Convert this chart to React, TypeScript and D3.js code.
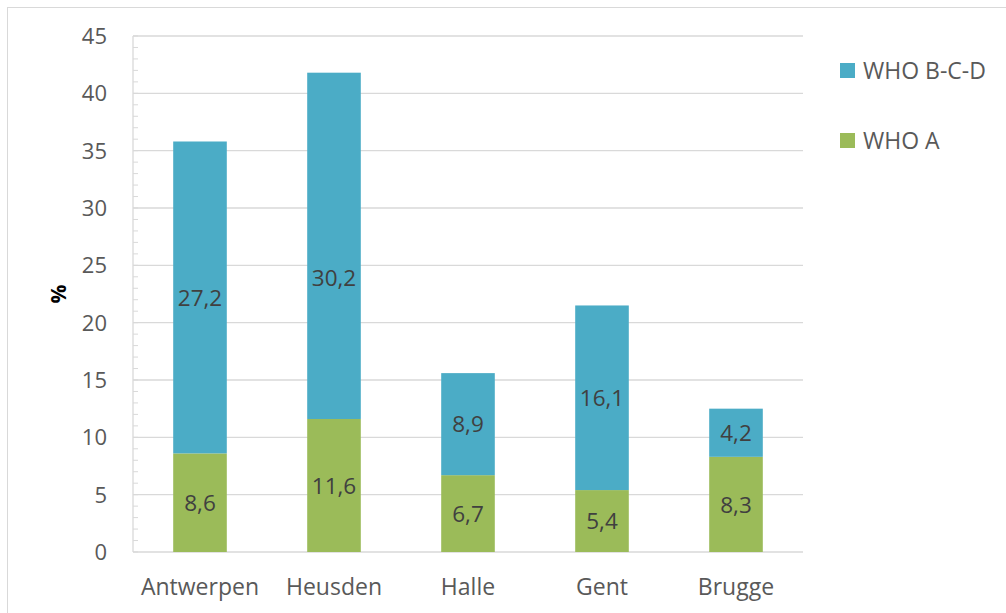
import React from "react";
import * as d3 from "d3";

const categories = ["Antwerpen", "Heusden", "Halle", "Gent", "Brugge"];
const whoA = [8.6, 11.6, 6.7, 5.4, 8.3];
const whoBCD = [27.2, 30.2, 8.9, 16.1, 4.2];
// label anchor (in data units) for the WHO B-C-D labels; null = segment centre
const bcdLabelAt: (number | null)[] = [null, 23.9, null, null, null];
const yTicks = [0, 5, 10, 15, 20, 25, 30, 35, 40, 45];
const seriesNames = ["WHO B-C-D", "WHO A"];
const colors = { a: "#9BBB59", bcd: "#4BACC6" };

const W = 1006;
const H = 613;
const left = 133;
const right = 803;
const top = 36;
const bottom = 552;
const font = "'Open Sans', 'Noto Sans', sans-serif";

export default function App() {
  const x = d3.scaleBand<string>().domain(categories).range([left, right]).paddingInner(0.6).paddingOuter(0.3);
  const y = d3.scaleLinear().domain([0, 45]).range([bottom, top]);
  const minor = d3.range(0, 46, 1);
  const fmt = (v: number) => v.toFixed(1).replace(".", ",");

  return (
    <svg width={W} height={H} style={{ position: "absolute", left: 0, top: 0, background: "#fff" }}>
      <rect x={7.5} y={7.5} width={W + 10} height={H + 10} fill="#fff" stroke="#d9d9d9" strokeWidth={1} />
      {yTicks.map((t) => (
        <line key={"g" + t} x1={left} x2={right} y1={y(t)} y2={y(t)} stroke="#d9d9d9" strokeWidth={1.3} />
      ))}
      <line x1={left} x2={left} y1={top} y2={bottom} stroke="#d9d9d9" strokeWidth={1.3} />
      {minor.map((t) => (
        <line key={"m" + t} x1={left} x2={left + 5} y1={y(t)} y2={y(t)} stroke="#d9d9d9" strokeWidth={1} />
      ))}
      {yTicks.map((t) => (
        <text key={"t" + t} x={left - 26} y={y(t)} dy="0.36em" textAnchor="end" fontFamily={font} fontSize={22} fill="#595959">
          {t}
        </text>
      ))}
      <text transform={`translate(66,${(top + bottom) / 2}) rotate(-90)`} textAnchor="middle" fontFamily={font} fontSize={21} fontWeight="bold" fill="#000">
        %
      </text>
      {categories.map((c, i) => {
        const bx = x(c)!;
        const bw = x.bandwidth();
        const a = whoA[i];
        const b = whoBCD[i];
        const bl = bcdLabelAt[i] ?? a + b / 2;
        return (
          <g key={c}>
            <rect x={bx} y={y(a)} width={bw} height={y(0) - y(a)} fill={colors.a} />
            <rect x={bx} y={y(a + b)} width={bw} height={y(a) - y(a + b)} fill={colors.bcd} />
            <text x={bx + bw / 2} y={y(a / 2)} dy="0.36em" textAnchor="middle" fontFamily={font} fontSize={22.5} fill="#404040">
              {fmt(a)}
            </text>
            <text x={bx + bw / 2} y={y(bl)} dy="0.36em" textAnchor="middle" fontFamily={font} fontSize={22.5} fill="#404040">
              {fmt(b)}
            </text>
            <text x={bx + bw / 2} y={587} dy="0.36em" textAnchor="middle" fontFamily={font} fontSize={23} fill="#595959">
              {c}
            </text>
          </g>
        );
      })}
      {seriesNames.map((s, i) => (
        <g key={s} transform={`translate(840,${63 + i * 70})`}>
          <rect x={0} y={0} width={15} height={15} fill={i === 0 ? colors.bcd : colors.a} />
          <text x={23} y={7.5} dy="0.36em" fontFamily={font} fontSize={23} fill="#595959">
            {s}
          </text>
        </g>
      ))}
    </svg>
  );
}
